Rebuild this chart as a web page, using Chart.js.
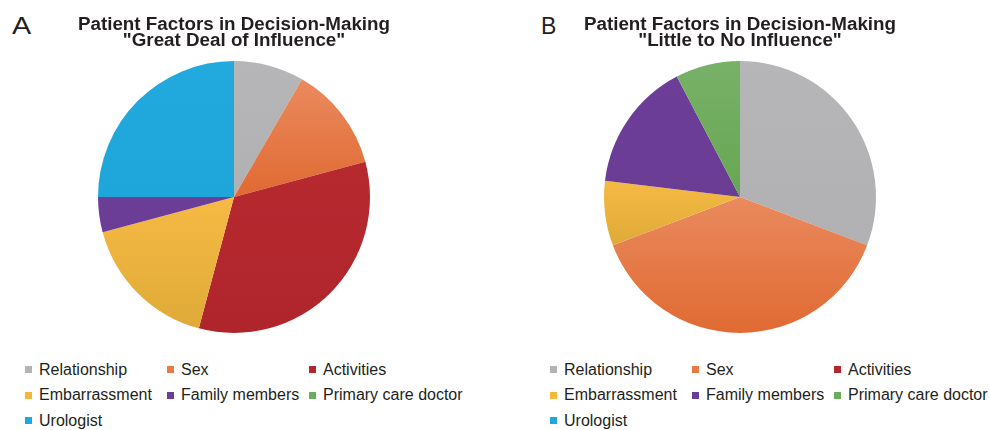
<!DOCTYPE html>
<html>
<head>
<meta charset="utf-8">
<script src="https://cdn.jsdelivr.net/npm/chart.js@4"></script>
<style>
  html, body { margin: 0; padding: 0; background: #fff; }
  body { width: 989px; height: 430px; position: relative; overflow: hidden;
         font-family: "Liberation Sans", Arial, Helvetica, sans-serif; color: #231f20; }
  .panel { position: absolute; top: 0; width: 468px; height: 333px; }
  .panel canvas { display: block; }
  .letter { position: absolute; top: 15px; font-size: 23px; line-height: 1; }
  .legend { position: absolute; top: 357px; display: grid;
            grid-template-columns: repeat(3, 142px); grid-auto-rows: 25.5px; }
  .legend div { display: flex; align-items: center; font-size: 16px; white-space: nowrap; }
  .legend span.box { display: inline-block; flex-shrink: 0; width: 7px; height: 7px; margin-right: 7px; }
</style>
</head>
<body>
<div class="letter" style="left:12px; transform: scaleX(1.25); transform-origin: left top;">A</div>
<div class="letter" style="left:541px;">B</div>
<div class="panel" style="left:0px;"><canvas id="chartA" width="468" height="333"></canvas></div>
<div class="panel" style="left:506px;"><canvas id="chartB" width="468" height="333"></canvas></div>
<div class="legend" id="legendA" style="left:25px;"></div>
<div class="legend" id="legendB" style="left:550px;"></div>
<script>
// categories and counts
var factors = ['Relationship', 'Sex', 'Activities', 'Embarrassment', 'Family members', 'Primary care doctor', 'Urologist'];
var greatDeal = [2, 3, 8, 4, 1, 0, 6];
var littleToNone = [4, 5, 0, 1, 2, 1, 0];
var factorColors = ['#b4b4b6', '#ea7a43', '#b2262d', '#f4b73a', '#6b3d96', '#6aad5a', '#1ea7dc'];
// slight top-to-bottom shading of each slice
var shadeTop = ['#b6b6b8', '#ea8a5e', '#b6292f', '#f6ba44', '#6c3e98', '#78b168', '#22a9de'];
var shadeBottom = ['#b1b1b3', '#e06a32', '#b0252c', '#dfaa38', '#6a3c94', '#66a752', '#1ea5da'];

var titleA = ['Patient Factors in Decision-Making', '"Great Deal of Influence"'];
var titleB = ['Patient Factors in Decision-Making', '"Little to No Influence"'];

function sliceFill(ctx) {
  var i = ctx.dataIndex;
  var arc = ctx.element;
  if (!arc || !arc.outerRadius) return factorColors[i];
  var r = arc.outerRadius, s = arc.startAngle, e = arc.endAngle;
  var ys = [arc.y, arc.y + r * Math.sin(s), arc.y + r * Math.sin(e)];
  [Math.PI / 2, -Math.PI / 2, 1.5 * Math.PI].forEach(function(a) {
    if (a > s && a < e) ys.push(arc.y + r * Math.sin(a));
  });
  var top = Math.min.apply(null, ys), bot = Math.max.apply(null, ys);
  if (bot - top < 1) return factorColors[i];
  var g = ctx.chart.ctx.createLinearGradient(0, top, 0, bot);
  g.addColorStop(0, shadeTop[i]);
  g.addColorStop(1, shadeBottom[i]);
  return g;
}

function makePie(id, values, title) {
  var chart = new Chart(document.getElementById(id), {
    type: 'pie',
    data: {
      labels: factors,
      datasets: [{
        data: values,
        backgroundColor: sliceFill,
        borderWidth: 0
      }]
    },
    options: {
      responsive: false,
      animation: false,
      layout: { padding: 0 },
      plugins: {
        legend: { display: false },
        tooltip: { enabled: false },
        title: {
          display: true,
          text: title,
          color: '#231f20',
          font: { family: '"Liberation Sans", Arial, sans-serif', size: 18.8, weight: 'bold', lineHeight: 0.86 },
          padding: { top: 16.5, bottom: 12.2 }
        }
      }
    }
  });
  chart.update(); // second pass so the shading knows each slice's geometry
  return chart;
}

function makeLegend(id) {
  var el = document.getElementById(id);
  el.innerHTML = factors.map(function(f, i) {
    return '<div><span class="box" style="background:' + factorColors[i] + '"></span>' + f + '</div>';
  }).join('');
}

makePie('chartA', greatDeal, titleA);
makePie('chartB', littleToNone, titleB);
makeLegend('legendA');
makeLegend('legendB');
</script>
</body>
</html>
